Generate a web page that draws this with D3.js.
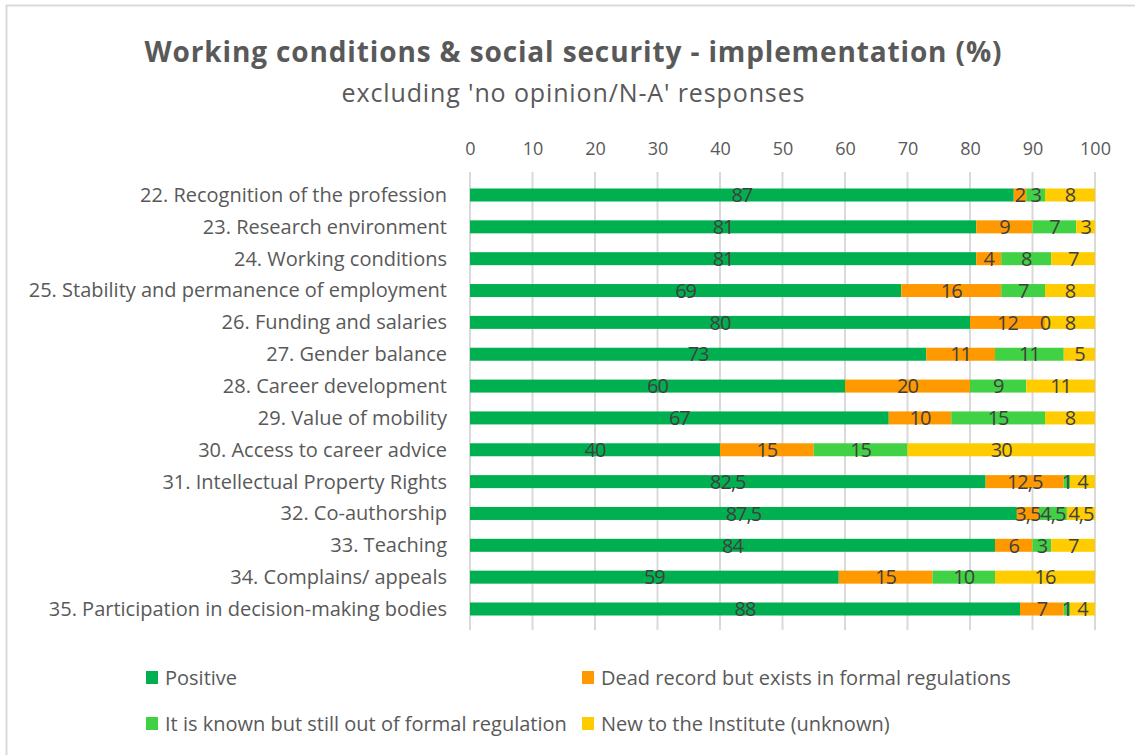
<!DOCTYPE html>
<html>
<head>
<meta charset="utf-8">
<script src="https://cdn.jsdelivr.net/npm/d3@7"></script>
<style>
  body { margin: 0; background: #fff; }
  text { font-family: 'Open Sans', sans-serif; }
</style>
</head>
<body>
<div class="canvas"></div>
<script>
const categories = [
  '22. Recognition of the profession',
  '23. Research environment',
  '24. Working conditions',
  '25. Stability and permanence of employment',
  '26. Funding and salaries',
  '27. Gender balance',
  '28. Career development',
  '29. Value of mobility',
  '30. Access to career advice',
  '31. Intellectual Property Rights',
  '32. Co-authorship',
  '33. Teaching',
  '34. Complains/ appeals',
  '35. Participation in decision-making bodies'
];
const seriesNames = [
  'Positive',
  'Dead record but exists in formal regulations',
  'It is known but still out of formal regulation',
  'New to the Institute (unknown)'
];
const positive = [87, 81, 81, 69, 80, 73, 60, 67, 40, 82.5, 87.5, 84, 59, 88];
const deadRecord = [2, 9, 4, 16, 12, 11, 20, 10, 15, 12.5, 3.5, 6, 15, 7];
const knownOutside = [3, 7, 8, 7, 0, 11, 9, 15, 15, 1, 4.5, 3, 10, 1];
const newToInstitute = [8, 3, 7, 8, 8, 5, 11, 8, 30, 4, 4.5, 7, 16, 4];
const xTicks = [0, 10, 20, 30, 40, 50, 60, 70, 80, 90, 100];
const colors = ['#00b050', '#ff9900', '#41d145', '#ffcc00'];

const width = 1135, height = 755;
const textColor = '#595959';

const svg = d3.select('.canvas').append('svg').attr('width', width).attr('height', height);

// frame (only top and left edges visible in the reference)
svg.append('line').attr('x1', 6).attr('x2', width).attr('y1', 5.5).attr('y2', 5.5).attr('stroke', '#d9d9d9').attr('stroke-width', 2);
svg.append('line').attr('x1', 6.5).attr('x2', 6.5).attr('y1', 5).attr('y2', height).attr('stroke', '#d9d9d9').attr('stroke-width', 2);

svg.append('text')
  .attr('x', 573).attr('y', 62)
  .attr('text-anchor', 'middle')
  .attr('fill', textColor)
  .attr('textLength', 857)
  .style('font-size', '28px').style('font-weight', 'bold')
  .text('Working conditions & social security - implementation (%)');

svg.append('text')
  .attr('x', 573).attr('y', 102)
  .attr('text-anchor', 'middle')
  .attr('fill', textColor)
  .attr('textLength', 463)
  .style('font-size', '25px')
  .text("excluding 'no opinion/N-A' responses");

const x = d3.scaleLinear().domain([0, 100]).range([470, 1095]);
const y = d3.scalePoint().domain(categories).range([195, 609]);
const barH = 13;

// grid + top axis
const xAxis = d3.axisTop(x).tickValues(xTicks).tickSize(0).tickPadding(0);
const xAxisGroup = svg.append('g').attr('transform', 'translate(0, 155)').call(xAxis);
xAxisGroup.select('.domain').remove();
xAxisGroup.selectAll('text').attr('fill', textColor).style('font-size', '18px').attr('dy', 0);

svg.append('g').selectAll('line').data(xTicks).join('line')
  .attr('x1', d => x(d)).attr('x2', d => x(d))
  .attr('y1', 172).attr('y2', 630)
  .attr('stroke', '#d9d9d9').attr('stroke-width', 2);

// category labels
const yAxis = d3.axisLeft(y).tickSize(0).tickPadding(0);
const yAxisGroup = svg.append('g').attr('transform', 'translate(447, 0)').call(yAxis);
yAxisGroup.select('.domain').remove();
yAxisGroup.selectAll('text').attr('fill', textColor).style('font-size', '20px');

// stacked segments
const rows = categories.map((c, i) => ({
  cat: c,
  vals: [positive[i], deadRecord[i], knownOutside[i], newToInstitute[i]]
}));
const segs = [];
rows.forEach(r => {
  let acc = 0;
  r.vals.forEach((v, k) => {
    segs.push({ cat: r.cat, k: k, x0: acc, x1: acc + v, v: v });
    acc += v;
  });
});

const bars = svg.append('g');
bars.selectAll('rect').data(segs).join('rect')
  .attr('x', d => x(d.x0))
  .attr('y', d => y(d.cat) - barH / 2)
  .attr('width', d => x(d.x1) - x(d.x0))
  .attr('height', barH)
  .attr('fill', d => colors[d.k]);

bars.selectAll('text').data(segs).join('text')
  .attr('x', d => x((d.x0 + d.x1) / 2))
  .attr('y', d => y(d.cat))
  .attr('dy', '0.36em')
  .attr('text-anchor', 'middle')
  .attr('fill', '#404040')
  .style('font-size', '20px')
  .style('letter-spacing', '-1px')
  .text(d => String(d.v).replace('.', ','));

// legend
const legendPos = [[146, 678], [582, 678], [146, 724], [582, 724]];
const legend = svg.append('g').selectAll('g').data(seriesNames).join('g')
  .attr('transform', (d, i) => `translate(${legendPos[i][0]}, ${legendPos[i][1]})`);
legend.append('rect').attr('x', 0).attr('y', -7).attr('width', 12).attr('height', 13).attr('fill', (d, i) => colors[i]);
legend.append('text').attr('x', 19).attr('dy', '0.35em').attr('fill', textColor).style('font-size', '20px').text(d => d);
</script>
</body>
</html>
